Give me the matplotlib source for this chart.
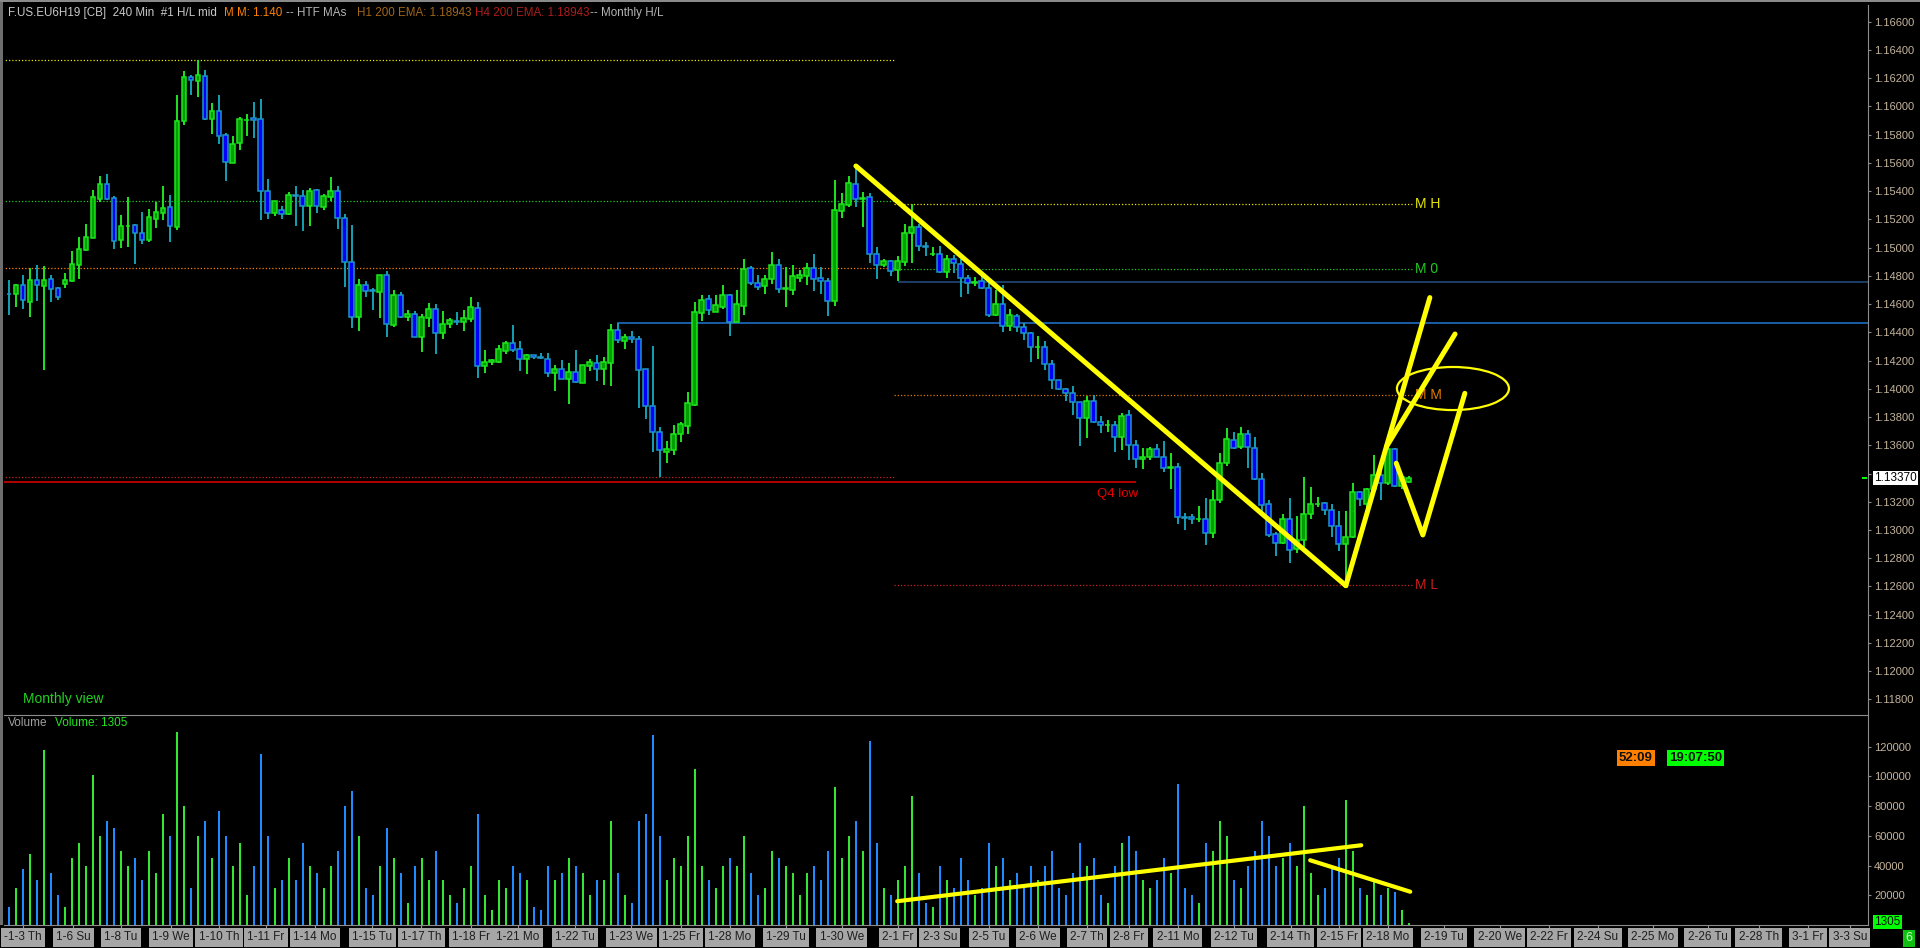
import matplotlib
matplotlib.use("Agg")
import matplotlib.pyplot as plt
import matplotlib.transforms as mtransforms
from matplotlib.patches import Ellipse, Rectangle
import numpy as np

plt.rcParams['font.family'] = ['Liberation Sans', 'DejaVu Sans']

# 240 min bars, F.US.EU6H19
opens = [
    1.14672, 1.14670, 1.14733, 1.14618, 1.14771, 1.14731, 1.14778, 1.14712, 1.14745, 1.14766,
    1.14877, 1.14984, 1.15071, 1.15347, 1.15449, 1.15350, 1.15057, 1.15154, 1.15158, 1.15102,
    1.15057, 1.15205, 1.15248, 1.15286, 1.15149, 1.15893, 1.16207, 1.16183, 1.16214, 1.15914,
    1.15966, 1.15796, 1.15602, 1.15739, 1.15902, 1.15916, 1.15909, 1.15404, 1.15243, 1.15265,
    1.15236, 1.15371, 1.15364, 1.15293, 1.15406, 1.15291, 1.15361, 1.15399, 1.15208, 1.14896,
    1.14511, 1.14733, 1.14698, 1.14688, 1.14804, 1.14450, 1.14665, 1.14511, 1.14528, 1.14370,
    1.14504, 1.14566, 1.14398, 1.14457, 1.14478, 1.14476, 1.14497, 1.14570, 1.14164, 1.14188,
    1.14188, 1.14270, 1.14322, 1.14280, 1.14209, 1.14238, 1.14223, 1.14209, 1.14115, 1.14138,
    1.14072, 1.14119, 1.14044, 1.14164, 1.14183, 1.14143, 1.14181, 1.14415, 1.14341, 1.14367,
    1.14351, 1.14138, 1.13881, 1.13692, 1.13555, 1.13569, 1.13678, 1.13740, 1.13885, 1.14540,
    1.14637, 1.14547, 1.14582, 1.14665, 1.14474, 1.14589, 1.14854, 1.14750, 1.14726, 1.14780,
    1.14875, 1.14710, 1.14703, 1.14788, 1.14802, 1.14854, 1.14785, 1.14764, 1.14625, 1.15262,
    1.15300, 1.15451, 1.15347, 1.15355, 1.14955, 1.14880, 1.14906, 1.14840, 1.14900, 1.15101,
    1.15143, 1.15011, 1.14954, 1.14952, 1.14829, 1.14917, 1.14881, 1.14782, 1.14747, 1.14761,
    1.14711, 1.14525, 1.14598, 1.14444, 1.14513, 1.14440, 1.14392, 1.14293, 1.14298, 1.14173,
    1.14062, 1.13996, 1.13968, 1.13904, 1.13790, 1.13913, 1.13767, 1.13741, 1.13745, 1.13661,
    1.13812, 1.13604, 1.13500, 1.13520, 1.13572, 1.13520, 1.13440, 1.13449, 1.13092, 1.13092,
    1.13076, 1.13080, 1.12977, 1.13210, 1.13472, 1.13635, 1.13586, 1.13678, 1.13583, 1.13364,
    1.13182, 1.12970, 1.12906, 1.13076, 1.12863, 1.12927, 1.13111, 1.13182, 1.13190, 1.13139,
    1.13026, 1.12899, 1.12948, 1.13267, 1.13182, 1.13293, 1.13387, 1.13331, 1.13572, 1.13314,
    1.13338,
]
highs = [
    1.14771, 1.14743, 1.14807, 1.14854, 1.14877, 1.14870, 1.14807, 1.14722, 1.14821, 1.14977,
    1.15076, 1.15168, 1.15409, 1.15508, 1.15522, 1.15366, 1.15231, 1.15359, 1.15168, 1.15253,
    1.15274, 1.15324, 1.15437, 1.15373, 1.16081, 1.16251, 1.16223, 1.16327, 1.16259, 1.16025,
    1.16081, 1.15810, 1.15791, 1.15923, 1.15947, 1.16032, 1.16049, 1.15487, 1.15330, 1.15295,
    1.15394, 1.15437, 1.15409, 1.15423, 1.15416, 1.15378, 1.15501, 1.15437, 1.15239, 1.15158,
    1.14778, 1.14764, 1.14712, 1.14807, 1.14835, 1.14700, 1.14686, 1.14559, 1.14552, 1.14528,
    1.14608, 1.14601, 1.14552, 1.14502, 1.14544, 1.14559, 1.14651, 1.14615, 1.14275, 1.14209,
    1.14308, 1.14339, 1.14452, 1.14339, 1.14247, 1.14240, 1.14254, 1.14254, 1.14169, 1.14204,
    1.14183, 1.14275, 1.14169, 1.14212, 1.14240, 1.14226, 1.14459, 1.14467, 1.14389, 1.14410,
    1.14374, 1.14140, 1.14304, 1.13732, 1.13631, 1.13744, 1.13765, 1.13978, 1.14615, 1.14665,
    1.14665, 1.14665, 1.14736, 1.14670, 1.14700, 1.14920, 1.14870, 1.14807, 1.14807, 1.14969,
    1.14920, 1.14863, 1.14877, 1.14842, 1.14892, 1.14955, 1.14863, 1.14785, 1.15479, 1.15387,
    1.15508, 1.15578, 1.15394, 1.15387, 1.15005, 1.14920, 1.14913, 1.14941, 1.15167, 1.15309,
    1.15167, 1.15037, 1.15002, 1.15009, 1.14945, 1.14945, 1.14917, 1.14803, 1.14789, 1.14803,
    1.14751, 1.14699, 1.14732, 1.14562, 1.14529, 1.14463, 1.14402, 1.14374, 1.14338, 1.14204,
    1.14062, 1.14005, 1.14019, 1.13910, 1.13949, 1.13953, 1.13807, 1.13779, 1.13772, 1.13828,
    1.13849, 1.13640, 1.13580, 1.13590, 1.13609, 1.13631, 1.13543, 1.13472, 1.13118, 1.13114,
    1.13170, 1.13225, 1.13284, 1.13546, 1.13723, 1.13694, 1.13727, 1.13708, 1.13659, 1.13404,
    1.13213, 1.12988, 1.13114, 1.13227, 1.13099, 1.13376, 1.13302, 1.13232, 1.13198, 1.13184,
    1.13135, 1.13135, 1.13333, 1.13275, 1.13298, 1.13531, 1.13418, 1.13614, 1.13579, 1.13373,
    1.13383,
]
lows = [
    1.14523, 1.14582, 1.14568, 1.14511, 1.14622, 1.14134, 1.14618, 1.14629, 1.14717, 1.14759,
    1.14778, 1.14979, 1.15065, 1.15326, 1.15338, 1.14991, 1.14998, 1.15005, 1.14887, 1.15028,
    1.15040, 1.15139, 1.15196, 1.15040, 1.15125, 1.15871, 1.16081, 1.16067, 1.15905, 1.15805,
    1.15734, 1.15475, 1.15597, 1.15692, 1.15791, 1.15777, 1.15196, 1.15205, 1.15227, 1.15203,
    1.15230, 1.15154, 1.15118, 1.15154, 1.15248, 1.15267, 1.15328, 1.15132, 1.14724, 1.14433,
    1.14410, 1.14651, 1.14559, 1.14502, 1.14370, 1.14440, 1.14500, 1.14481, 1.14365, 1.14261,
    1.14438, 1.14247, 1.14353, 1.14433, 1.14452, 1.14410, 1.14474, 1.14077, 1.14112, 1.14171,
    1.14180, 1.14247, 1.14261, 1.14127, 1.14105, 1.14212, 1.14212, 1.14084, 1.13987, 1.14070,
    1.13895, 1.14042, 1.14040, 1.14127, 1.14056, 1.14027, 1.14020, 1.14325, 1.14282, 1.14325,
    1.13864, 1.13787, 1.13555, 1.13378, 1.13477, 1.13532, 1.13626, 1.13683, 1.13881, 1.14481,
    1.14523, 1.14544, 1.14566, 1.14374, 1.14470, 1.14523, 1.14738, 1.14700, 1.14672, 1.14743,
    1.14679, 1.14580, 1.14665, 1.14757, 1.14736, 1.14693, 1.14672, 1.14516, 1.14589, 1.15212,
    1.15290, 1.15290, 1.15149, 1.14894, 1.14780, 1.14866, 1.14802, 1.14766, 1.14872, 1.14893,
    1.14978, 1.14940, 1.14940, 1.14822, 1.14787, 1.14822, 1.14652, 1.14673, 1.14730, 1.14710,
    1.14511, 1.14518, 1.14402, 1.14411, 1.14404, 1.14345, 1.14189, 1.14211, 1.14133, 1.14000,
    1.13991, 1.13915, 1.13814, 1.13594, 1.13653, 1.13760, 1.13689, 1.13694, 1.13554, 1.13566,
    1.13495, 1.13440, 1.13430, 1.13496, 1.13515, 1.13413, 1.13291, 1.13043, 1.13000, 1.13043,
    1.13059, 1.12894, 1.12946, 1.13194, 1.13456, 1.13576, 1.13576, 1.13439, 1.13354, 1.13118,
    1.12953, 1.12818, 1.12901, 1.12769, 1.12840, 1.12882, 1.13078, 1.13165, 1.13106, 1.12953,
    1.12854, 1.12606, 1.12940, 1.13173, 1.13161, 1.13279, 1.13215, 1.13321, 1.13307, 1.13291,
    1.13336,
]
closes = [
    1.14670, 1.14733, 1.14627, 1.14771, 1.14738, 1.14771, 1.14710, 1.14653, 1.14769, 1.14882,
    1.14988, 1.15073, 1.15357, 1.15449, 1.15347, 1.15050, 1.15151, 1.15156, 1.15102, 1.15057,
    1.15215, 1.15253, 1.15279, 1.15156, 1.15895, 1.16207, 1.16185, 1.16221, 1.15914, 1.15966,
    1.15793, 1.15604, 1.15732, 1.15909, 1.15904, 1.15902, 1.15404, 1.15243, 1.15328, 1.15236,
    1.15371, 1.15366, 1.15293, 1.15399, 1.15293, 1.15364, 1.15399, 1.15208, 1.14901, 1.14511,
    1.14733, 1.14695, 1.14693, 1.14804, 1.14457, 1.14663, 1.14511, 1.14530, 1.14370, 1.14507,
    1.14566, 1.14393, 1.14457, 1.14485, 1.14474, 1.14500, 1.14580, 1.14164, 1.14188, 1.14204,
    1.14280, 1.14322, 1.14275, 1.14214, 1.14240, 1.14223, 1.14219, 1.14115, 1.14138, 1.14072,
    1.14117, 1.14051, 1.14167, 1.14190, 1.14143, 1.14190, 1.14415, 1.14348, 1.14367, 1.14351,
    1.14136, 1.13881, 1.13697, 1.13569, 1.13572, 1.13680, 1.13749, 1.13900, 1.14542, 1.14629,
    1.14559, 1.14594, 1.14665, 1.14476, 1.14601, 1.14849, 1.14752, 1.14724, 1.14778, 1.14875,
    1.14710, 1.14712, 1.14797, 1.14807, 1.14854, 1.14776, 1.14766, 1.14625, 1.15267, 1.15309,
    1.15458, 1.15347, 1.15352, 1.14958, 1.14880, 1.14906, 1.14837, 1.14906, 1.15101, 1.15143,
    1.15009, 1.15006, 1.14957, 1.14829, 1.14917, 1.14888, 1.14782, 1.14747, 1.14754, 1.14716,
    1.14525, 1.14598, 1.14444, 1.14520, 1.14440, 1.14392, 1.14293, 1.14298, 1.14173, 1.14062,
    1.13996, 1.13968, 1.13904, 1.13790, 1.13913, 1.13767, 1.13741, 1.13745, 1.13661, 1.13809,
    1.13604, 1.13500, 1.13520, 1.13572, 1.13520, 1.13437, 1.13449, 1.13090, 1.13088, 1.13076,
    1.13080, 1.12977, 1.13210, 1.13472, 1.13642, 1.13583, 1.13678, 1.13586, 1.13364, 1.13180,
    1.12967, 1.12906, 1.13076, 1.12861, 1.12927, 1.13111, 1.13182, 1.13187, 1.13139, 1.13026,
    1.12899, 1.12948, 1.13267, 1.13222, 1.13293, 1.13387, 1.13331, 1.13572, 1.13314, 1.13373,
    1.13369,
]
volumes = [
    12000, 25000, 38000, 48000, 30000, 118000, 35000, 20000, 12000, 45000,
    55000, 40000, 101000, 60000, 70000, 65000, 50000, 40000, 45000, 30000,
    50000, 35000, 75000, 60000, 130000, 80000, 25000, 60000, 70000, 45000,
    77000, 60000, 40000, 55000, 20000, 40000, 115000, 60000, 25000, 30000,
    45000, 30000, 55000, 40000, 35000, 25000, 40000, 50000, 80000, 90000,
    60000, 25000, 20000, 40000, 65000, 45000, 35000, 15000, 40000, 45000,
    30000, 50000, 30000, 20000, 15000, 25000, 40000, 75000, 20000, 10000,
    30000, 25000, 40000, 35000, 30000, 12000, 10000, 40000, 30000, 35000,
    45000, 40000, 35000, 20000, 30000, 30000, 70000, 35000, 20000, 15000,
    70000, 75000, 128000, 60000, 30000, 45000, 40000, 60000, 105000, 40000,
    30000, 25000, 40000, 45000, 40000, 60000, 35000, 20000, 25000, 50000,
    45000, 40000, 35000, 20000, 35000, 40000, 30000, 50000, 93000, 45000,
    60000, 70000, 50000, 124000, 55000, 25000, 20000, 30000, 40000, 87000,
    35000, 15000, 12000, 40000, 30000, 25000, 45000, 30000, 20000, 25000,
    55000, 40000, 45000, 30000, 35000, 25000, 40000, 30000, 40000, 50000,
    25000, 20000, 35000, 55000, 40000, 45000, 20000, 15000, 40000, 55000,
    60000, 50000, 30000, 25000, 30000, 45000, 35000, 95000, 25000, 20000,
    15000, 55000, 50000, 70000, 60000, 30000, 25000, 40000, 50000, 70000,
    60000, 40000, 45000, 55000, 40000, 80000, 35000, 20000, 25000, 40000,
    45000, 84000, 50000, 25000, 20000, 30000, 20000, 25000, 22000, 10000,
    1305,
]

# time axis labels (bar index where each label sits)
tick_pos = [2, 9.2, 16, 23.1, 30, 36.7, 43.7, 51.9, 58.9, 66, 72.7, 80.9, 88.9, 96, 103,
            111, 119, 127, 133, 140, 147, 154, 160, 167, 175, 183.1, 190, 197, 205, 213,
            220, 227, 234.9, 242.7, 250, 257, 263]
tick_labels = ['-1-3 Th', '1-6 Su', '1-8 Tu', '1-9 We', '1-10 Th', '1-11 Fr', '1-14 Mo',
               '1-15 Tu', '1-17 Th', '1-18 Fr', '1-21 Mo', '1-22 Tu', '1-23 We', '1-25 Fr',
               '1-28 Mo', '1-29 Tu', '1-30 We', '2-1 Fr', '2-3 Su', '2-5 Tu', '2-6 We',
               '2-7 Th', '2-8 Fr', '2-11 Mo', '2-12 Tu', '2-14 Th', '2-15 Fr', '2-18 Mo',
               '2-19 Tu', '2-20 We', '2-22 Fr', '2-24 Su', '2-25 Mo', '2-26 Tu', '2-28 Th',
               '3-1 Fr', '3-3 Su']

# monthly levels
jan_levels = [1.16327, 1.15328, 1.14854, 1.13373]
jan_colors = ['#e6e600', '#22c822', '#ff8000', '#c81e1e']
feb_levels = [1.15308, 1.14847, 1.13954, 1.12609]
feb_colors = ['#e6e600', '#22c822', '#e07800', '#c81e1e']
feb_names = ['M H', 'M 0', 'M M', 'M L']
q4_low = 1.13343
blue_level = 1.14464
navy_level = 1.14759
last_price = 1.13370

# hand drawn yellow lines (bar index, price)
down_x, down_y = [121, 191], [1.15578, 1.12606]
leg_a_x, leg_a_y = [191, 203.0], [1.12606, 1.14646]
leg_b_x, leg_b_y = [196.8, 206.6], [1.13590, 1.14388]
leg_c_x, leg_c_y = [198.2, 202.0, 208.0], [1.13473, 1.12965, 1.13968]
ring_x, ring_y = 206.3, 1.14002
vol_line1_x, vol_line1_y = [126.9, 193.2], [16000, 53700]
vol_line2_x, vol_line2_y = [185.9, 200.2], [43600, 22400]

W, H = 1920, 948


def box(x0, y0, x1, y1):
    return [x0 / W, 1 - y1 / H, (x1 - x0) / W, (y1 - y0) / H]


fig = plt.figure(figsize=(W / 100, H / 100), dpi=100, facecolor='black')
ax = fig.add_axes(box(4, 5, 1868, 715), facecolor='black')
axv = fig.add_axes(box(4, 715, 1868, 925), facecolor='black')

o, h, l, c = map(np.array, (opens, highs, lows, closes))
idx = np.arange(len(o))
up = c >= o

UP_WICK, UP_FILL, UP_EDGE = '#1ee61e', '#00a000', '#1ee61e'
DN_WICK, DN_FILL, DN_EDGE = '#14a0b4', '#0000ff', '#1e96c8'

# levels
dot = (0, (1, 1.6))
for lev, col in zip(jan_levels, jan_colors):
    ax.hlines(lev, -1, 126.5, colors=col, linestyles=dot, lw=0.9, zorder=1)
for lev, col, name in zip(feb_levels, feb_colors, feb_names):
    ax.hlines(lev, 126.5, 200.5, colors=col, linestyles=dot, lw=0.9, zorder=1)
    ax.text(200.9, lev, name, color=col, fontsize=10, va='center', ha='left')
ax.hlines(q4_low, -1, 161, colors='#e60000', lw=1.1, zorder=1)
ax.text(155.5, q4_low - 0.00045, 'Q4 low', color='#e60000', fontsize=9.5, va='top', ha='left')
ax.hlines(blue_level, 86.9, 300, colors='#1e6ec3', lw=1.2, zorder=1)
ax.hlines(navy_level, 127, 300, colors='#1f4a78', lw=1.2, zorder=1)

# candles
body_lo = np.minimum(o, c)
body_h = np.abs(c - o)
ax.vlines(idx[up], l[up], h[up], color=UP_WICK, lw=1.4, zorder=3)
ax.vlines(idx[~up], l[~up], h[~up], color=DN_WICK, lw=1.4, zorder=3)
ax.bar(idx[up], body_h[up], bottom=body_lo[up], width=0.7, color=UP_FILL,
       edgecolor=UP_EDGE, lw=1.1, zorder=4)
ax.bar(idx[~up], body_h[~up], bottom=body_lo[~up], width=0.7, color=DN_FILL,
       edgecolor=DN_EDGE, lw=1.1, zorder=4)

# yellow drawings
ylw = dict(color='#ffff00', lw=3.6, solid_capstyle='round', solid_joinstyle='round', zorder=6)
ax.plot(down_x, down_y, **ylw)
ax.plot(leg_a_x, leg_a_y, **ylw)
ax.plot(leg_b_x, leg_b_y, **ylw)
ax.plot(leg_c_x, leg_c_y, **ylw)
ax.add_patch(Ellipse((ring_x, ring_y), 16, 0.00305, fill=False, ec='#ffff00', lw=1.6, zorder=6))

ax.set_xlim(-0.71, 265.6)
ax.set_ylim(1.11690, 1.16718)
ax.yaxis.tick_right()
price_ticks = np.round(np.arange(1.118, 1.1661, 0.002), 3)
ax.set_yticks(price_ticks)
# the last-price box sits on top of 1.13400
ax.set_yticklabels(['' if abs(t - last_price) < 0.0005 else '%.5f' % t for t in price_ticks])
ax.tick_params(axis='y', colors='#8c8c8c', labelcolor='#c4b49c', length=2.5, width=0.8,
               pad=2, labelsize=8)
ax.tick_params(axis='x', bottom=False, labelbottom=False)
for s in ('left', 'top', 'bottom'):
    ax.spines[s].set_visible(False)
ax.spines['right'].set_color('#8c8c8c')

# volume
vcol = np.where(up, '#32e632', '#1e8cff')
axv.bar(idx, volumes, width=0.36, color=vcol, zorder=2)
axv.plot(vol_line1_x, vol_line1_y, color='#ffff00', lw=3, solid_capstyle='round', zorder=5)
axv.plot(vol_line2_x, vol_line2_y, color='#ffff00', lw=3, solid_capstyle='round', zorder=5)
axv.set_xlim(-0.71, 265.6)
axv.set_ylim(0, 141400)
axv.yaxis.tick_right()
axv.set_yticks(range(20000, 120001, 20000))
axv.yaxis.set_major_formatter(plt.FormatStrFormatter('%d'))
axv.tick_params(axis='y', colors='#8c8c8c', labelcolor='#c4b49c', length=2.5, width=0.8,
                pad=2, labelsize=8)
axv.set_xticks(tick_pos)
axv.tick_params(axis='x', colors='#9a9a9a', length=3, width=0.8, labelbottom=False)
axv.spines['left'].set_visible(False)
axv.spines['top'].set_color('#8c8c8c')
axv.spines['right'].set_color('#8c8c8c')
axv.spines['bottom'].set_color('#8c8c8c')

tl = mtransforms.blended_transform_factory(axv.transData, fig.transFigure)
for p, s in zip(tick_pos, tick_labels):
    axv.text(p, 1 - 937.5 / H, s, transform=tl, ha='center', va='center', fontsize=8.5,
             color='#1e1e1e', clip_on=False,
             bbox=dict(boxstyle='square,pad=0.28', fc='#a6a6a6', ec='none'))

# frame bits
fig.patches.append(Rectangle((0, 1 - 925 / H), 3 / W, 925 / H, transform=fig.transFigure,
                             fc='#6e6e6e', ec='none'))
fig.patches.append(Rectangle((0, 1 - 2 / H), 1, 2 / H, transform=fig.transFigure,
                             fc='#8a8a8a', ec='none'))


def ftext(x, y, s, **kw):
    return fig.text(x / W, 1 - y / H, s, **kw)


# header
ftext(8, 13, 'F.US.EU6H19 [CB]  240 Min  #1 H/L mid', color='#c8c8c8', fontsize=8.4, va='center')
ftext(224, 13, 'M M: 1.140', color='#ff8000', fontsize=8.4, va='center')
ftext(286, 13, '-- HTF MAs', color='#b4b4b4', fontsize=8.4, va='center')
ftext(357, 13, 'H1 200 EMA: 1.18943', color='#a0661a', fontsize=8.4, va='center')
ftext(475, 13, 'H4 200 EMA: 1.18943', color='#b01c1c', fontsize=8.4, va='center')
ftext(590, 13, '-- Monthly H/L', color='#b4b4b4', fontsize=8.4, va='center')

ftext(23, 699, 'Monthly view', color='#22d022', fontsize=10, va='center')
ftext(8, 723, 'Volume', color='#a0a0a0', fontsize=8.5, va='center')
ftext(55, 723, 'Volume: 1305', color='#22e622', fontsize=8.5, va='center')

# timers
ftext(1619, 758, '52:09', color='#101010', fontsize=9.5, fontweight='bold', va='center',
      bbox=dict(boxstyle='square,pad=0.15', fc='#ff8000', ec='none'))
ftext(1669, 758, '19:07:50', color='#101010', fontsize=9.5, fontweight='bold', va='center',
      bbox=dict(boxstyle='square,pad=0.15', fc='#00ff00', ec='none'))

# price / volume markers
ftext(1874, 478, '1.13370', color='black', fontsize=8.5, va='center', zorder=10,
      bbox=dict(boxstyle='square,pad=0.12', fc='white', ec='none'))
fig.patches.append(Rectangle((1862 / W, 1 - 479 / H), 5 / W, 2 / H, transform=fig.transFigure,
                             fc='#00ff00', ec='none'))
ftext(1874, 922, '1305', color='#101010', fontsize=8.5, va='center', zorder=10,
      bbox=dict(boxstyle='square,pad=0.12', fc='#00ff00', ec='none'))
ftext(1905, 938, '6', color='#c8ffc8', fontsize=9, va='center', zorder=10,
      bbox=dict(boxstyle='square,pad=0.2', fc='#10c010', ec='none'))

fig.savefig('out.png', dpi=100, facecolor='black')
